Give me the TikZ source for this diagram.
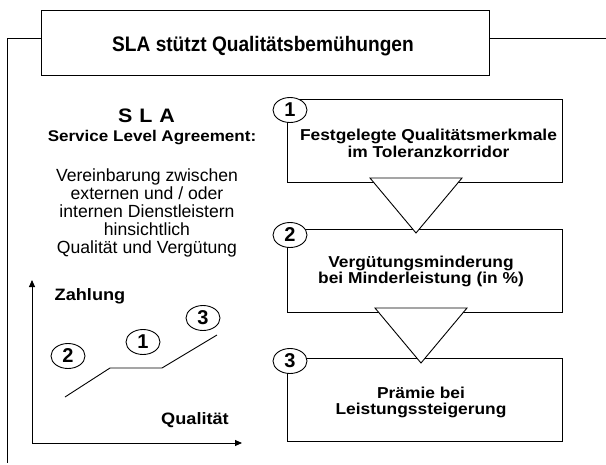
\documentclass[tikz,border=0pt]{standalone}
\usepackage{fontspec}
\setmainfont{Liberation Sans}
\newfontfamily\wideface[FakeStretch=1.1]{Liberation Sans}
\newfontfamily\titleface[FakeStretch=0.91]{Liberation Sans}
\usetikzlibrary{arrows.meta,shapes.geometric}
\begin{document}
\begin{tikzpicture}[x=1pt,y=-1pt,line width=0.9pt,
  box/.style={draw,fill=white,minimum width=275pt,minimum height=83pt,anchor=north west,inner sep=0pt},
  num/.style={draw,fill=white,ellipse,minimum width=34pt,minimum height=25pt,inner sep=0pt,font=\fontsize{20}{20}\selectfont\bfseries},
  boxtext/.style={align=center,font=\wideface\fontsize{15.8}{16.7}\selectfont\bfseries,inner sep=0pt},
  lefttext/.style={align=center,font=\fontsize{17.6}{17.9}\selectfont,inner sep=0pt},
  axislabel/.style={font=\wideface\fontsize{16.5}{16.5}\selectfont\bfseries,inner sep=0pt,anchor=base},
  axis/.style={-{Triangle[length=7pt,width=6pt]}},
  tri/.style={draw,fill=white,line join=miter}]
\useasboundingbox (0,0) rectangle (606,464);
% frame and title
\node[draw,fill=white,minimum width=448pt,minimum height=65pt,anchor=north west,inner sep=0pt] (title) at (41,10) {};
\node[font=\titleface\fontsize{21}{21}\selectfont\bfseries,anchor=base,inner sep=0pt] (titletext) at (263,51) {SLA stützt Qualitätsbemühungen};
\coordinate (fl) at (41,38);
\coordinate (fr) at (489,38);
\coordinate (fre) at (606,38);
\coordinate (flc) at (7,38);
\coordinate (flb) at (7,463);
\draw (fl) -- (flc) -- (flb);
\draw (fr) -- (fre);
% left text
\node[font=\wideface\fontsize{19.5}{19.5}\selectfont\bfseries,anchor=base,inner sep=0pt] (sla) at (146.5,122) {S\hspace{0.35em}L\hspace{0.35em}A};
\node[font=\wideface\fontsize{15.5}{15.5}\selectfont\bfseries,anchor=base,inner sep=0pt] (sladef) at (152,141) {Service Level Agreement:};
\node[lefttext,anchor=north] (desc) at (147,168.5) {Vereinbarung zwischen\\externen und / oder\\internen Dienstleistern\\hinsichtlich\\Qualität und Vergütung};
% boxes
\node[box] (b1) at (287,99) {};
\node[box] (b2) at (287,229) {};
\node[box] (b3) at (287,358) {};
\node[boxtext] (t1) at (428.5,143) {Festgelegte Qualitätsmerkmale\\im Toleranzkorridor};
\node[boxtext] (t2) at (421,271.5) {Vergütungsminderung\\bei Minderleistung (in \%)};
\node[boxtext] (t3) at (421,402.5) {Prämie bei\\Leistungssteigerung};
% triangles
\draw[tri] (370,178) -- (462,178) -- (416,233) -- cycle;
\draw[tri] (375,308) -- (467,308) -- (421,363) -- cycle;
% numbers
\node[num] (n1) at (290,110) {1};
\node[num] (n2) at (290,235) {2};
\node[num] (n3) at (290,361) {3};
% graph
\coordinate (origin) at (32,443);
\coordinate (ytip) at (32,280);
\coordinate (xtip) at (242,443);
\draw[axis] (origin) -- (ytip);
\draw[axis] (origin) -- (xtip);
\node[axislabel] (zahl) at (90,300) {Zahlung};
\node[axislabel] (qual) at (195,424) {Qualität};
\coordinate (c0) at (65,397);
\coordinate (c1) at (110,368);
\coordinate (c2) at (162,368);
\coordinate (c3) at (217,335);
\draw (c0) -- (c1) -- (c2) -- (c3);
\node[num] (g2) at (68,356) {2};
\node[num] (g1) at (143,342) {1};
\node[num] (g3) at (203,318) {3};
\end{tikzpicture}
\end{document}
